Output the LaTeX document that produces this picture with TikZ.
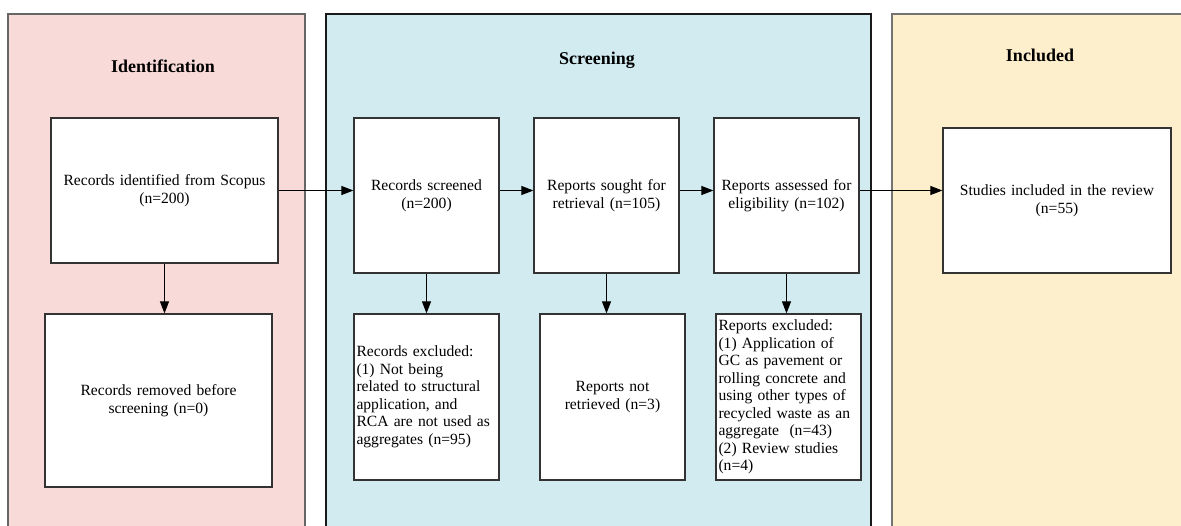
\documentclass[tikz,border=0pt]{standalone}
\usepackage{fontspec}
\setmainfont{Liberation Serif}
\usetikzlibrary{arrows.meta}

\definecolor{idpink}{RGB}{248,218,217}
\definecolor{scrblue}{RGB}{210,235,241}
\definecolor{incyellow}{RGB}{254,239,204}

\begin{document}
\begin{tikzpicture}[x=1pt,y=-1pt,
    every node/.style={font=\fontsize{15.6}{17.5}\selectfont},
    panel/.style={line width=1.2pt},
    title/.style={font=\fontsize{18}{20}\selectfont\bfseries},
    box/.style={draw=black!80,line width=1.2pt,fill=white,align=center,inner xsep=5pt},
    note/.style={box,align=left,inner xsep=2.5pt,text width=140pt,minimum height=166pt},
    arrow/.style={line width=1pt,-{Triangle[length=12pt,width=9pt]}}]
    \clip (0,0) rectangle (1181,525);
    \fill[white] (0,0) rectangle (1181,525);

    % phase panels
    \filldraw[panel,fill=idpink,draw=black!60] (8,14) rectangle (305,540);
    \filldraw[panel,fill=scrblue,draw=black!90] (326,14) rectangle (871,540);
    \filldraw[panel,fill=incyellow,draw=black!55] (892,14) rectangle (1200,540);

    \node[title] (idtitle) at (163,66) {Identification};
    \node[title] (scrtitle) at (597,60) {Screening};
    \node[title] (inctitle) at (1040,55) {Included};

    % boxes
    \node[box,text width=217pt,minimum height=145pt] (scopus) at (164.5,190.5)
        {Records identified from Scopus\\(n=200)};
    \node[box,text width=217pt,minimum height=173pt] (removed) at (158.5,400.5)
        {Records removed before\\screening (n=0)};
    \node[box,text width=135pt,minimum height=155pt] (screened) at (426.5,195.5)
        {Records screened\\(n=200)};
    \node[box,text width=135pt,minimum height=155pt] (sought) at (606.5,195.5)
        {Reports sought for\\retrieval (n=105)};
    \node[box,text width=135pt,minimum height=155pt] (assessed) at (786.5,195.5)
        {Reports assessed for\\eligibility (n=102)};
    \node[box,text width=218pt,minimum height=145pt] (studies) at (1057,200.5)
        {Studies included in the review\\(n=55)};

    \node[note] (recexcl) at (426.5,397)
        {Records excluded:\\(1) Not being\\related to structural\\application, and\\RCA are not used as\\aggregates (n=95)};
    \node[box,text width=135pt,minimum height=166pt] (notretr) at (612.5,397)
        {Reports not\\retrieved (n=3)};
    \node[note,inner ysep=2pt] (repexcl) at (788.5,397)
        {Reports excluded:\\(1) Application of\\GC as pavement or\\rolling concrete and\\using other types of\\recycled waste as an\\aggregate~~(n=43)\\(2) Review studies\\(n=4)};

    % arrows
    \draw[arrow] (scopus.east) -- (scopus.east -| screened.west);
    \draw[arrow] (screened.east |- scopus.east) -- (sought.west |- scopus.east);
    \draw[arrow] (sought.east |- scopus.east) -- (assessed.west |- scopus.east);
    \draw[arrow] (assessed.east |- scopus.east) -- (studies.west |- scopus.east);

    \draw[arrow] (scopus.south) -- (scopus.south |- removed.north);
    \draw[arrow] (screened.south) -- (recexcl.north);
    \draw[arrow] (sought.south) -- (sought.south |- notretr.north);
    \draw[arrow] (assessed.south) -- (assessed.south |- repexcl.north);
\end{tikzpicture}
\end{document}
